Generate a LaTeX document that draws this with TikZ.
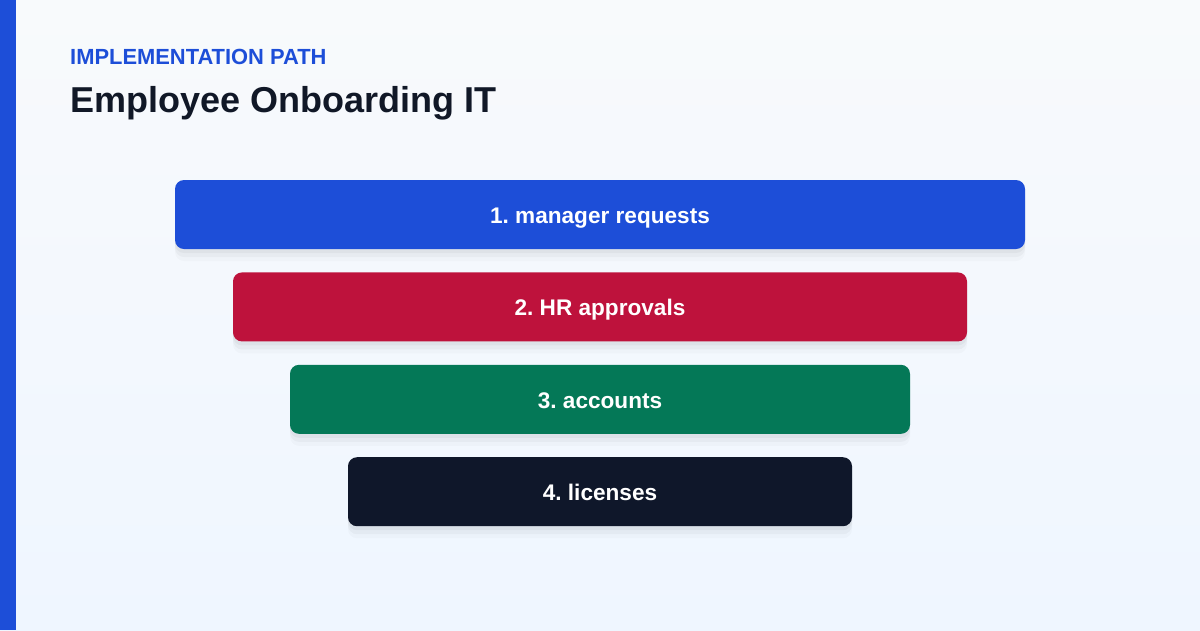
\documentclass[tikz,border=0pt]{standalone}
\usepackage{fontspec}
\setmainfont{Liberation Sans}
\usepackage{tikz}
\usetikzlibrary{positioning}
\usepackage{xcolor}
\frenchspacing

\definecolor{pathblue}{HTML}{1D4ED8}
\definecolor{pathred}{HTML}{BE123C}
\definecolor{pathgreen}{HTML}{047857}
\definecolor{pathdark}{HTML}{0F172A}
\definecolor{titleink}{HTML}{111827}
\definecolor{bgtop}{HTML}{F8FAFC}
\definecolor{bgbottom}{HTML}{EFF6FF}

\begin{document}
\begin{tikzpicture}[x=1pt, y=-1pt,
  stage/.style={rounded corners=9pt, minimum height=69pt, inner sep=0pt,
    text height=17.5pt, text depth=0pt,
    text=white, font=\fontsize{22.6}{26}\selectfont\bfseries,
    preaction={fill=black, opacity=0.02, transform canvas={yshift=-12pt}},
    preaction={fill=black, opacity=0.03, transform canvas={yshift=-8pt}},
    preaction={fill=black, opacity=0.035, transform canvas={yshift=-4pt}}},
  node distance=23pt]
% Hintergrund
\shade[top color=bgtop, bottom color=bgbottom] (0,0) rectangle (1200,630);
\useasboundingbox (0,0) rectangle (1200,630);
\fill[pathblue] (0,0) rectangle (16,630);

% Ueberschriften
\node[anchor=base west, inner sep=0pt, text=pathblue, font=\fontsize{21.9}{25}\selectfont\bfseries] (kicker) at (70,64) {IMPLEMENTATION PATH};
\node[anchor=base west, inner sep=0pt, text=titleink, font=\fontsize{36}{40}\selectfont\bfseries] (title) at (70,112) {Employee Onboarding IT};

% Stufen
\node[stage, fill=pathblue, minimum width=850pt] (s1) at (600,214.5) {1. manager requests};
\node[stage, fill=pathred, minimum width=734pt, below=of s1] (s2) {2. HR approvals};
\node[stage, fill=pathgreen, minimum width=620pt, below=of s2] (s3) {3. accounts};
\node[stage, fill=pathdark, minimum width=504pt, below=of s3] (s4) {4. licenses};
\end{tikzpicture}
\end{document}
